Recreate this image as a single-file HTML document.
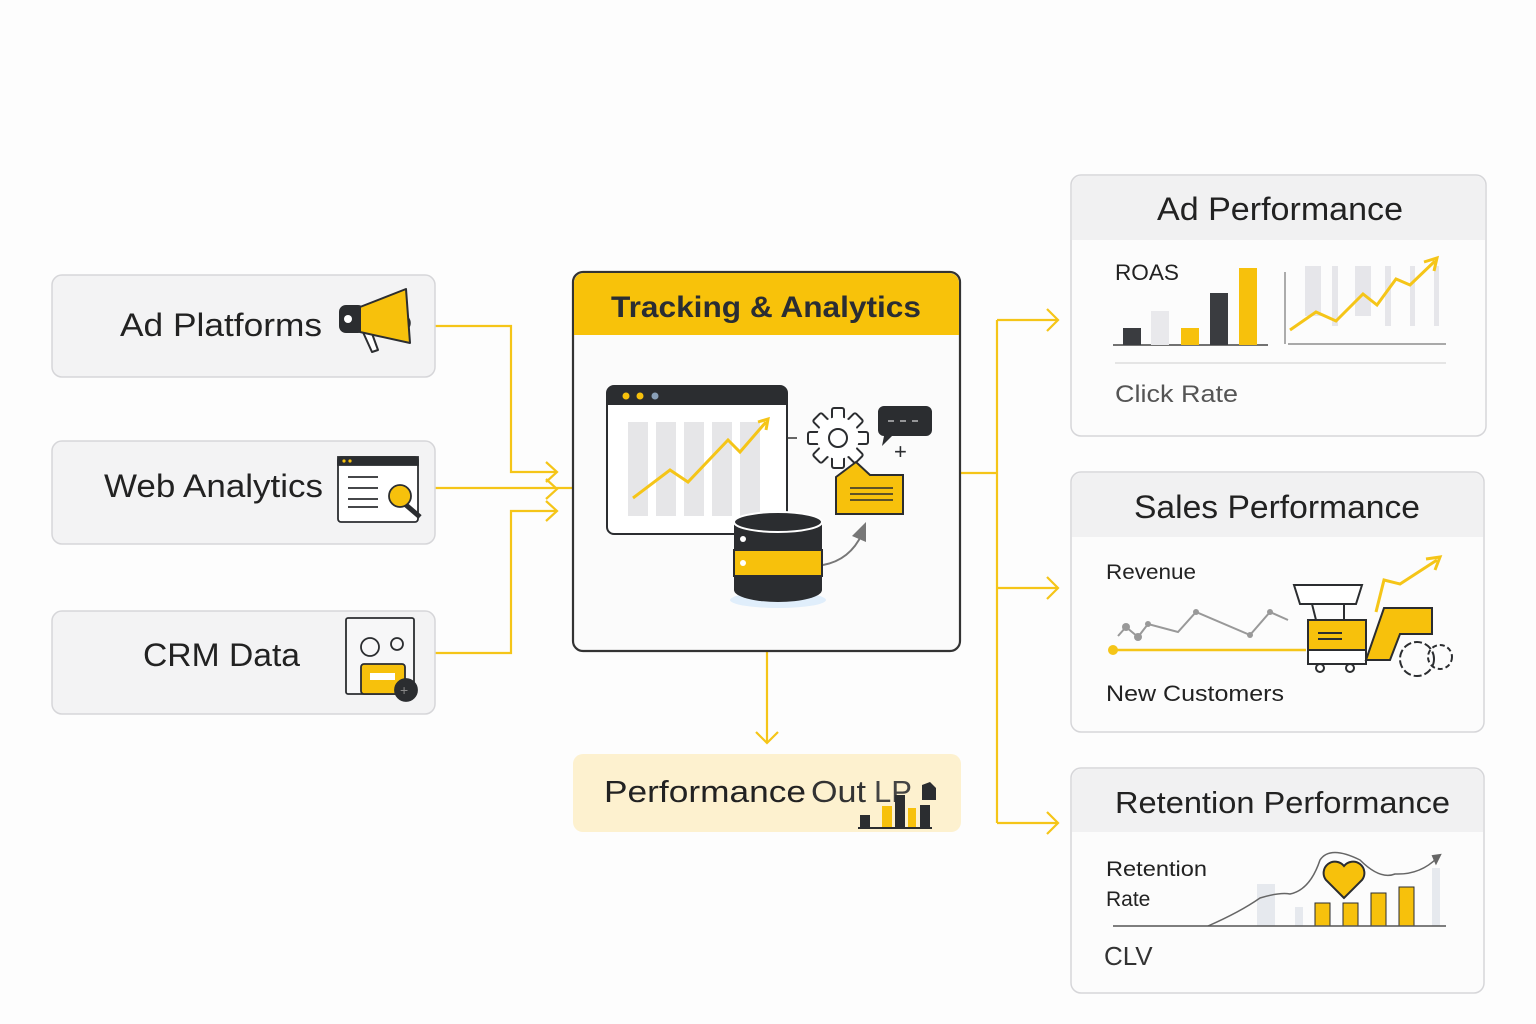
<!DOCTYPE html>
<html><head><meta charset="utf-8"><style>
html,body{margin:0;padding:0;background:#fdfdfd;}
svg{display:block}
text{font-family:"Liberation Sans","DejaVu Sans",sans-serif;fill:#222;}
</style></head><body>
<svg width="1536" height="1024" viewBox="0 0 1536 1024" xmlns="http://www.w3.org/2000/svg">
<rect width="1536" height="1024" fill="#fdfdfd"/>
<!-- connectors -->
<g fill="none" stroke="#f5c518" stroke-width="2.2">
<path d="M435 326 H511 V472 H556"/><path d="M546 462 L557 472 L546 482"/>
<path d="M435 488 H573"/><path d="M546 479 L557 489 L546 499"/>
<path d="M435 653 H511 V511 H556"/><path d="M546 501 L557 511 L546 521"/>
<path d="M960 473 H997"/><path d="M997 320 V823"/>
<path d="M997 320 H1058"/><path d="M1047 309 L1058 320 L1047 331"/>
<path d="M997 588 H1058"/><path d="M1047 577 L1058 588 L1047 599"/>
<path d="M997 823 H1058"/><path d="M1047 812 L1058 823 L1047 834"/>
<path d="M767 651 V743"/><path d="M756 732 L767 743 L778 732"/>
</g>
<!-- left boxes -->
<g fill="#f3f3f4" stroke="#d6d6d9" stroke-width="1.5">
<rect x="52" y="275" width="383" height="102" rx="10"/>
<rect x="52" y="441" width="383" height="103" rx="10"/>
<rect x="52" y="611" width="383" height="103" rx="10"/>
</g>
<text x="120" y="336" font-size="32" textLength="202" lengthAdjust="spacingAndGlyphs">Ad Platforms</text>
<text x="104" y="497" font-size="32" textLength="219" lengthAdjust="spacingAndGlyphs">Web Analytics</text>
<text x="143" y="666" font-size="32" textLength="157" lengthAdjust="spacingAndGlyphs">CRM Data</text>
<!-- megaphone -->
<g stroke="#2b2d30" stroke-width="2" stroke-linejoin="round">
<path d="M362 330 L372 352 L378 350 L370 328Z" fill="#fff"/>
<rect x="340" y="306" width="24" height="26" rx="6" fill="#2b2d30"/>
<circle cx="348" cy="319" r="4" fill="#fff" stroke="none"/>
<path d="M408 318 a8 8 0 0 1 0 10" fill="#f7c10c"/>
<path d="M360 307 L406 289 L410 343 L360 332Z" fill="#f7c10c"/>
</g>
<!-- web analytics icon -->
<g stroke="#2b2d30" stroke-width="1.8">
<rect x="338" y="457" width="80" height="65" rx="3" fill="#fff"/>
<rect x="338" y="457" width="80" height="8" fill="#2b2d30"/>
<line x1="348" y1="477" x2="378" y2="477"/><line x1="348" y1="488" x2="378" y2="488"/><line x1="348" y1="499" x2="378" y2="499"/><line x1="348" y1="507" x2="378" y2="507"/>
<line x1="406" y1="505" x2="420" y2="517" stroke-width="5" stroke="#2b2d30"/>
<circle cx="400" cy="496" r="11" fill="#f7c10c"/>
</g>
<circle cx="344" cy="461" r="1.6" fill="#f7c10c"/><circle cx="350" cy="461" r="1.6" fill="#f7c10c"/>
<!-- CRM icon -->
<g stroke="#2b2d30" stroke-width="1.8">
<rect x="346" y="618" width="68" height="76" rx="2" fill="#f7f7f8"/>
<circle cx="370" cy="647" r="9" fill="none"/><circle cx="397" cy="644" r="6" fill="none"/>
<rect x="361" y="664" width="44" height="30" rx="3" fill="#f7c10c"/>
<rect x="370" y="673" width="25" height="7" fill="#fff" stroke="none"/>
<circle cx="406" cy="690" r="11" fill="#2b2d30"/>
</g>
<text x="400" y="695" font-size="14" style="fill:#888">+</text>
<!-- center box -->
<rect x="573" y="272" width="387" height="379" rx="10" fill="#fbfbfb" stroke="#333" stroke-width="2.2"/>
<path d="M574 335 V283 a10 10 0 0 1 10 -10 H949 a10 10 0 0 1 10 10 V335Z" fill="#f8c20a"/>
<text x="611" y="317" font-size="30" font-weight="bold" textLength="310" lengthAdjust="spacingAndGlyphs" style="fill:#2a2d33">Tracking &amp; Analytics</text>
<rect x="607" y="386" width="180" height="148" rx="7" fill="#fff" stroke="#2b2d30" stroke-width="2"/>
<path d="M607 405 V393 a7 7 0 0 1 7 -7 H780 a7 7 0 0 1 7 7 V405Z" fill="#2b2d30"/>
<circle cx="626" cy="396" r="3.5" fill="#f7c10c"/><circle cx="640" cy="396" r="3.5" fill="#f7c10c"/><circle cx="655" cy="396" r="3.5" fill="#8aa0b8"/>
<g fill="#e6e6e8"><rect x="628" y="422" width="20" height="94"/><rect x="656" y="422" width="20" height="94"/><rect x="684" y="422" width="20" height="94"/><rect x="712" y="422" width="20" height="94"/><rect x="740" y="422" width="20" height="94"/></g>
<path d="M633 498 L670 470 L688 482 L728 440 L740 452 L766 422" fill="none" stroke="#f5c518" stroke-width="3"/>
<path d="M758 422 L768 419 L766 430" fill="none" stroke="#f5c518" stroke-width="3"/>
<line x1="787" y1="438" x2="797" y2="438" stroke="#333" stroke-width="1.5"/>
<!-- gear -->
<g stroke="#2b2d30" stroke-width="2" fill="#fff">
<g transform="translate(838 438)">
<rect x="-6" y="-30" width="12" height="12" rx="2"/>
<rect x="-6" y="-30" width="12" height="12" rx="2" transform="rotate(45)"/>
<rect x="-6" y="-30" width="12" height="12" rx="2" transform="rotate(90)"/>
<rect x="-6" y="-30" width="12" height="12" rx="2" transform="rotate(135)"/>
<rect x="-6" y="-30" width="12" height="12" rx="2" transform="rotate(180)"/>
<rect x="-6" y="-30" width="12" height="12" rx="2" transform="rotate(225)"/>
<rect x="-6" y="-30" width="12" height="12" rx="2" transform="rotate(270)"/>
<rect x="-6" y="-30" width="12" height="12" rx="2" transform="rotate(315)"/>
</g>
<circle cx="838" cy="438" r="21" stroke="none"/>
<circle cx="838" cy="438" r="9" fill="none"/>
</g>
<path d="M882 406 H926 a6 6 0 0 1 6 6 V430 a6 6 0 0 1 -6 6 H892 L882 446 L884 436 a6 6 0 0 1 -6 -6 V412 a6 6 0 0 1 6 -6Z" fill="#2b2d30"/>
<g stroke="#fff" stroke-width="1"><line x1="888" y1="421" x2="894" y2="421"/><line x1="900" y1="421" x2="906" y2="421"/><line x1="912" y1="421" x2="918" y2="421"/></g>
<text x="894" y="459" font-size="22" style="fill:#2b2d30">+</text>
<path d="M836 477 L856 462 L870 475 L903 475 V514 H836Z" fill="#f7c10c" stroke="#2b2d30" stroke-width="2"/>
<g stroke="#2b2d30" stroke-width="1.6"><line x1="850" y1="488" x2="893" y2="488"/><line x1="850" y1="494" x2="893" y2="494"/><line x1="850" y1="500" x2="893" y2="500"/></g>
<ellipse cx="778" cy="600" rx="48" ry="8" fill="#cfe6fb" opacity=".6"/>
<path d="M734 522 V590 a44 12 0 0 0 88 0 V522Z" fill="#2b2d30"/>
<rect x="734" y="550" width="88" height="26" fill="#f7c10c" stroke="#2b2d30" stroke-width="2"/>
<ellipse cx="778" cy="522" rx="44" ry="10" fill="#2b2d30" stroke="#fff" stroke-width="2"/>
<circle cx="743" cy="539" r="3" fill="#fff"/><circle cx="743" cy="563" r="3" fill="#fff"/>
<path d="M823 565 Q850 560 862 534" fill="none" stroke="#777" stroke-width="2"/>
<path d="M852 536 L866 522 L866 542Z" fill="#777"/>
<!-- performance out -->
<rect x="573" y="754" width="388" height="78" rx="10" fill="#fdf1cf"/>
<text x="604" y="802" font-size="31" textLength="202" lengthAdjust="spacingAndGlyphs" style="fill:#222">Performance</text><text x="811" y="802" font-size="31" textLength="55" lengthAdjust="spacingAndGlyphs" style="fill:#333">Out</text>
<text x="874" y="802" font-size="31" style="fill:#444">LP</text>
<g fill="#2b2d30"><rect x="860" y="815" width="10" height="13"/><rect x="895" y="795" width="10" height="33"/><rect x="920" y="805" width="10" height="23"/><path d="M922 785 l8 -3 6 6 v12 h-14z"/></g>
<g fill="#f7c10c"><rect x="882" y="806" width="10" height="22"/><rect x="908" y="808" width="8" height="20"/></g>
<line x1="858" y1="828" x2="932" y2="828" stroke="#2b2d30" stroke-width="2"/>
<!-- right boxes -->
<g stroke="#d6d6d9" stroke-width="1.5">
<rect x="1071" y="175" width="415" height="261" rx="10" fill="#fcfcfc"/>
<rect x="1071" y="472" width="413" height="260" rx="10" fill="#fcfcfc"/>
<rect x="1071" y="768" width="413" height="225" rx="10" fill="#fcfcfc"/>
</g>
<path d="M1072 240 V185 a9 9 0 0 1 9 -9 H1476 a9 9 0 0 1 9 9 V240Z" fill="#f1f1f2"/>
<path d="M1072 537 V482 a9 9 0 0 1 9 -9 H1474 a9 9 0 0 1 9 9 V537Z" fill="#f1f1f2"/>
<path d="M1072 832 V778 a9 9 0 0 1 9 -9 H1474 a9 9 0 0 1 9 9 V832Z" fill="#f1f1f2"/>
<text x="1157" y="220" font-size="32" textLength="246" lengthAdjust="spacingAndGlyphs">Ad Performance</text>
<text x="1134" y="518" font-size="32" textLength="286" lengthAdjust="spacingAndGlyphs">Sales Performance</text>
<text x="1115" y="813" font-size="31" textLength="335" lengthAdjust="spacingAndGlyphs">Retention Performance</text>
<!-- ad perf content -->
<text x="1115" y="280" font-size="22" textLength="64" lengthAdjust="spacingAndGlyphs">ROAS</text>
<text x="1115" y="402" font-size="24" textLength="123" lengthAdjust="spacingAndGlyphs" style="fill:#555">Click Rate</text>
<line x1="1113" y1="345" x2="1268" y2="345" stroke="#444" stroke-width="1.5"/>
<rect x="1123" y="328" width="18" height="17" fill="#3a3c40"/><rect x="1151" y="311" width="18" height="34" fill="#e9e9ec"/><rect x="1181" y="328" width="18" height="17" fill="#f7c10c"/><rect x="1210" y="293" width="18" height="52" fill="#3a3c40"/><rect x="1239" y="268" width="18" height="77" fill="#f7c10c"/>
<line x1="1115" y1="363" x2="1446" y2="363" stroke="#ddd" stroke-width="1.5"/>
<g fill="#e6e6ea"><rect x="1305" y="266" width="16" height="50"/><rect x="1332" y="266" width="6" height="60"/><rect x="1355" y="266" width="16" height="50"/><rect x="1385" y="266" width="6" height="60"/><rect x="1410" y="266" width="5" height="60"/><rect x="1434" y="266" width="5" height="60"/></g>
<line x1="1285" y1="272" x2="1285" y2="344" stroke="#777" stroke-width="1.2"/>
<line x1="1288" y1="344" x2="1446" y2="344" stroke="#777" stroke-width="1.2"/>
<path d="M1290 330 L1316 312 L1336 321 L1363 294 L1377 305 L1396 279 L1410 285 L1435 261" fill="none" stroke="#f5c518" stroke-width="3"/>
<path d="M1424 262 L1437 258 L1434 271" fill="none" stroke="#f5c518" stroke-width="3"/>
<!-- sales content -->
<text x="1106" y="579" font-size="21" textLength="90" lengthAdjust="spacingAndGlyphs">Revenue</text>
<text x="1106" y="701" font-size="22" textLength="178" lengthAdjust="spacingAndGlyphs">New Customers</text>
<path d="M1118 636 L1126 627 L1138 637 L1148 624 L1178 632 L1196 612 L1250 635 L1270 612 L1288 620" fill="none" stroke="#999" stroke-width="2"/>
<g fill="#999"><circle cx="1126" cy="627" r="4"/><circle cx="1138" cy="637" r="4"/><circle cx="1148" cy="624" r="3"/><circle cx="1196" cy="612" r="3"/><circle cx="1250" cy="635" r="3"/><circle cx="1270" cy="612" r="3"/></g>
<line x1="1113" y1="650" x2="1306" y2="650" stroke="#f5c518" stroke-width="2.5"/><circle cx="1113" cy="650" r="5" fill="#f5c518"/>
<g stroke="#2b2d30" stroke-width="2">
<path d="M1294 585 H1362 L1356 604 H1300Z" fill="#fff"/>
<line x1="1312" y1="604" x2="1316" y2="620"/><line x1="1344" y1="604" x2="1344" y2="620"/>
<rect x="1308" y="620" width="58" height="30" fill="#f7c10c"/>
<rect x="1308" y="650" width="58" height="14" fill="#fff"/>
<path d="M1366 660 L1384 608 L1432 608 L1432 634 L1400 634 L1390 660Z" fill="#f7c10c"/>
<circle cx="1320" cy="668" r="4" fill="#fff"/><circle cx="1350" cy="668" r="4" fill="#fff"/>
<circle cx="1417" cy="659" r="17" fill="none" stroke-dasharray="8 3"/>
<circle cx="1440" cy="657" r="12" fill="none" stroke-dasharray="5 3"/>
<line x1="1318" y1="633" x2="1342" y2="633"/><line x1="1318" y1="639" x2="1342" y2="639"/>
</g>
<path d="M1376 612 L1384 580 L1400 584 L1437 560" fill="none" stroke="#f5c518" stroke-width="3"/>
<path d="M1426 559 L1440 557 L1435 570" fill="none" stroke="#f5c518" stroke-width="3"/>
<!-- retention content -->
<text x="1106" y="876" font-size="21" textLength="101" lengthAdjust="spacingAndGlyphs">Retention</text>
<text x="1106" y="906" font-size="21">Rate</text>
<text x="1104" y="965" font-size="26" style="fill:#333">CLV</text>
<g fill="#e6e9ee"><rect x="1257" y="884" width="18" height="42"/><rect x="1295" y="907" width="8" height="19"/><rect x="1432" y="868" width="8" height="58"/></g>
<g fill="#f7c10c" stroke="#2b2d30" stroke-width="1"><rect x="1315" y="903" width="15" height="23"/><rect x="1343" y="903" width="15" height="23"/><rect x="1371" y="893" width="15" height="33"/><rect x="1399" y="887" width="15" height="39"/></g>
<path d="M1208 926 Q1240 912 1260 898 Q1280 892 1290 894 Q1310 890 1320 860 Q1330 845 1360 860 Q1380 880 1395 874 Q1420 875 1437 858" fill="none" stroke="#666" stroke-width="1.5"/>
<path d="M1433 856 L1440 855 L1436 863Z" fill="#666" stroke="#666" stroke-width="2"/>
<path d="M1344 898 L1326 880 a10 10 0 0 1 18 -14 a10 10 0 0 1 18 14Z" fill="#f7c10c" stroke="#2b2d30" stroke-width="2"/>
<line x1="1113" y1="926" x2="1446" y2="926" stroke="#555" stroke-width="1.5"/>
</svg>
</body></html>
